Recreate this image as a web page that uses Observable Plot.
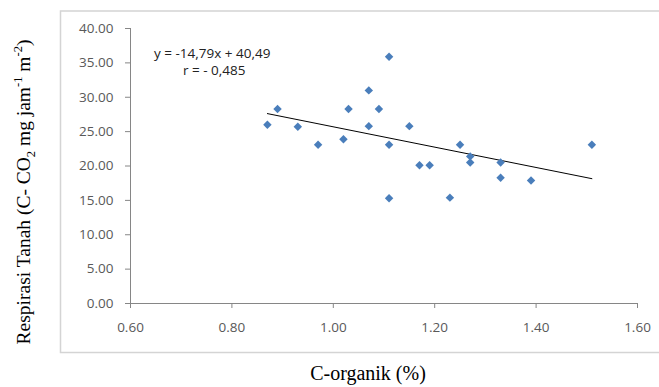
<!DOCTYPE html>
<html>
<head>
<meta charset="utf-8">
<script src="https://cdn.jsdelivr.net/npm/d3@7"></script>
<script src="https://cdn.jsdelivr.net/npm/@observablehq/plot@0.6"></script>
<style>
  html, body { margin: 0; padding: 0; background: #fff; }
  #chart { width: 659px; height: 387px; }
</style>
</head>
<body>
<div id="chart"></div>
<script>
// C-organik (%) values
const cOrganik = [0.87, 0.89, 0.93, 0.97, 1.02, 1.03, 1.07, 1.07, 1.09, 1.11, 1.11, 1.11, 1.15, 1.17, 1.19, 1.23, 1.25, 1.27, 1.27, 1.33, 1.33, 1.39, 1.51];
// Respirasi tanah values
const respirasi = [26.0, 28.3, 25.7, 23.1, 23.9, 28.3, 31.0, 25.8, 28.3, 35.9, 23.1, 15.3, 25.8, 20.1, 20.1, 15.4, 23.1, 21.4, 20.5, 20.5, 18.3, 17.9, 23.1];
// Axis ticks
const xTicks = [0.6, 0.8, 1.0, 1.2, 1.4, 1.6];
const yTicks = [0, 5, 10, 15, 20, 25, 30, 35, 40];
// Trendline coefficients shown on the chart
const slope = -14.79;
const intercept = 40.49;
const eqLine1 = "y = -14,79x + 40,49";
const eqLine2 = "r = - 0,485";

const points = cOrganik.map((x, i) => ({x, y: respirasi[i]}));
const xMin = d3.min(cOrganik), xMax = d3.max(cOrganik);
const trend = [xMin, xMax].map(x => ({x, y: slope * x + intercept}));

const axisGray = "#868686";
const textGray = "#595959";

const plot = Plot.plot({
  width: 659,
  height: 387,
  marginLeft: 130,
  marginRight: 22,
  marginTop: 28,
  marginBottom: 84,
  style: {fontFamily: "'Open Sans', sans-serif", fontSize: "13.5px", background: "white", overflow: "visible"},
  x: {domain: [0.6, 1.6]},
  y: {domain: [0, 40]},
  marks: [
    Plot.ruleY([0], {stroke: axisGray, strokeWidth: 1}),
    Plot.ruleX([0.6], {stroke: axisGray, strokeWidth: 1}),
    Plot.axisX({ticks: xTicks, tickSize: 5, tickPadding: 14, tickFormat: d => d.toFixed(2), stroke: axisGray, fill: textGray, label: null}),
    Plot.axisY({ticks: yTicks, tickSize: 5, tickPadding: 12, tickFormat: d => d.toFixed(2), stroke: axisGray, fill: textGray, label: null}),
    Plot.line(trend, {x: "x", y: "y", stroke: "#000", strokeWidth: 1}),
    Plot.dot(points, {x: "x", y: "y", symbol: "diamond2", r: 3.8, fill: "#4a7ebb", stroke: "none"})
  ]
});

const svg = d3.select(plot);
// outer chart-area border
svg.insert("rect", ":first-child")
  .attr("x", 60.5).attr("y", 11).attr("width", 700).attr("height", 341.5)
  .attr("fill", "white").attr("stroke", "#d4d4d4").attr("stroke-width", 1.5);

// equation text
const eq = svg.append("g")
  .attr("font-family", "'Open Sans', sans-serif")
  .attr("font-size", 13.5)
  .attr("text-anchor", "start")
  .attr("fill", "#222");
eq.append("text").attr("x", 154).attr("y", 57.5).text(eqLine1);
eq.append("text").attr("x", 183).attr("y", 74.5).text(eqLine2);

// x title
svg.append("text")
  .attr("x", 368).attr("y", 380)
  .attr("text-anchor", "middle")
  .attr("font-family", "'Liberation Serif', 'Times New Roman', serif")
  .attr("font-size", 20)
  .attr("fill", "#000")
  .text("C-organik (%)");

// y title with sub/superscripts
const yt = svg.append("text")
  .attr("transform", "translate(30,192) rotate(-90)")
  .attr("text-anchor", "middle")
  .attr("font-family", "'Liberation Serif', 'Times New Roman', serif")
  .attr("font-size", 19.5)
  .attr("fill", "#000");
yt.append("tspan").text("Respirasi Tanah (C- CO");
yt.append("tspan").attr("dy", 5).attr("font-size", 12.5).text("2");
yt.append("tspan").attr("dy", -5).text(" mg jam");
yt.append("tspan").attr("dy", -8).attr("font-size", 12.5).text("-1");
yt.append("tspan").attr("dy", 8).text(" m");
yt.append("tspan").attr("dy", -8).attr("font-size", 12.5).text("-2");
yt.append("tspan").attr("dy", 8).text(")");

document.getElementById("chart").appendChild(plot);
</script>
</body>
</html>
